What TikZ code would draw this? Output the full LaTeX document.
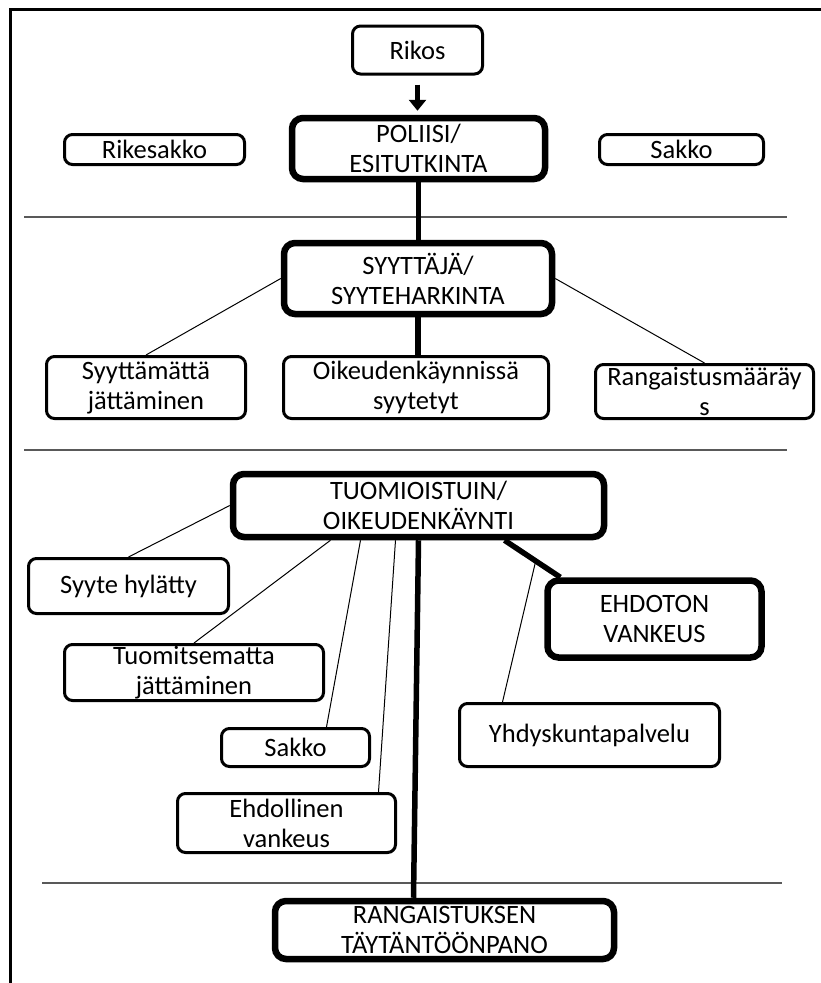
\documentclass[tikz,border=0pt]{standalone}
\usepackage{fontspec}
\setmainfont{Carlito}
\usetikzlibrary{calc,arrows.meta}
\begin{document}
\begin{tikzpicture}[x=1pt,y=-1pt,
  box/.style={draw, line width=3pt, rounded corners=8pt, align=center, inner sep=0pt, fill=white, font=\fontsize{26.5}{30}\selectfont},
  bigbox/.style={box, line width=6.5pt, rounded corners=11pt},
  conn/.style={line width=1pt},
  mainline/.style={line width=5.5pt},
  sepline/.style={line width=1.5pt, black!65},
  framel/.style={line width=3pt}]
\useasboundingbox (0,0) rectangle (820,983);
% frame
\draw[framel] (10,990) -- (10,9) -- (830,9);
% separators
\draw[sepline] (24,217) -- (787,217);
\draw[sepline] (24,450) -- (787,450);
\draw[sepline] (42,883) -- (782,883);
% nodes
\node[box, minimum width=130pt, minimum height=48pt] (rikos) at (417.5,50) {Rikos};
\node[bigbox, minimum width=253pt, minimum height=61pt] (poliisi) at (418.5,148.5) {POLIISI/\\ESITUTKINTA};
\node[box, minimum width=180pt, minimum height=30pt] (rikesakko) at (154.5,149.5) {Rikesakko};
\node[box, minimum width=164pt, minimum height=30pt] (sakkoa) at (681.5,149.5) {Sakko};
\node[bigbox, minimum width=268pt, minimum height=71pt] (syyttaja) at (418,278.5) {SYYTTÄJÄ/\\SYYTEHARKINTA};
\node[box, minimum width=199pt, minimum height=62pt] (syyttamatta) at (146,387.5) {Syyttämättä\\jättäminen};
\node[box, minimum width=265pt, minimum height=62pt] (oikeuden) at (416,387.5) {Oikeudenkäynnissä\\syytetyt};
\node[box, minimum width=218pt, minimum height=54pt] (rangm) at (704.5,391.5) {Rangaistusmääräy\\s};
\node[bigbox, minimum width=371pt, minimum height=63pt] (tuomio) at (418.5,505.5) {TUOMIOISTUIN/\\OIKEUDENKÄYNTI};
\node[box, minimum width=200pt, minimum height=55pt] (syyte) at (128.5,586) {Syyte hylätty};
\node[bigbox, minimum width=214pt, minimum height=77pt] (ehdoton) at (654.5,619) {EHDOTON\\VANKEUS};
\node[box, minimum width=259pt, minimum height=56pt] (tuomits) at (194,672.5) {Tuomitsematta\\jättäminen};
\node[box, minimum width=260pt, minimum height=63pt] (yhdys) at (589.5,735) {Yhdyskuntapalvelu};
\node[box, minimum width=148pt, minimum height=38pt] (sakkob) at (295.5,747.5) {Sakko};
\node[box, minimum width=218pt, minimum height=59pt] (ehdoll) at (286.5,823) {Ehdollinen\\vankeus};
\node[bigbox, minimum width=339pt, minimum height=58pt] (rang) at (444.5,930) {RANGAISTUKSEN\\TÄYTÄNTÖÖNPANO};
% connectors
\draw[mainline, -{Triangle[width=17pt,length=11pt]}, shorten <=9pt, shorten >=4pt] (rikos.south) -- (rikos.south |- poliisi.north);
\draw[mainline] (poliisi.south) -- (poliisi.south |- syyttaja.north);
\draw[mainline] (syyttaja.south) -- (syyttaja.south |- oikeuden.north);
\draw[mainline] ($(oikeuden.south)+(2,0)$) -- ($(oikeuden.south)+(2,0)$ |- tuomio.north);
\draw[mainline] (tuomio.south) -- ($(rang.north)+(-31,0)$);
\draw[conn] (syyttaja.west) -- (syyttamatta.north);
\draw[conn] (syyttaja.east) -- (rangm.north);
\draw[conn] (tuomio.west) -- (syyte.north);
\draw[conn] ($(tuomio.south)+(-88,0)$) -- (tuomits.north);
\draw[conn] ($(tuomio.south)+(-58,0)$) -- ($(sakkob.north)+(31,0)$);
\draw[conn] ($(tuomio.south)+(-23,0)$) -- ($(ehdoll.north)+(92,0)$);
\draw[mainline] ($(tuomio.south)+(86,0)$) -- coordinate[pos=0.56] (mid) ($(ehdoton.north west)+(16,0)$);
\draw[conn] (mid) -- ($(yhdys.north)+(-87,0)$);
\end{tikzpicture}
\end{document}
